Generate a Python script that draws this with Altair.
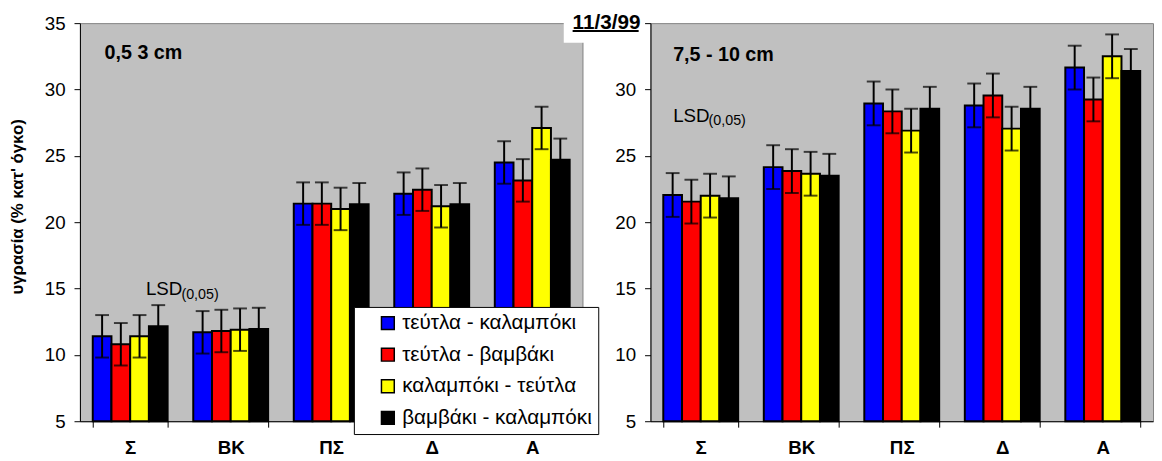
import altair as alt
import pandas as pd

FONT = "Liberation Sans"

categories = ["Σ", "ΒΚ", "ΠΣ", "Δ", "Α"]
series = ["τεύτλα - καλαμπόκι", "τεύτλα - βαμβάκι", "καλαμπόκι - τεύτλα", "βαμβάκι - καλαμπόκι"]
colors = ["#0000FF", "#FF0000", "#FFFF00", "#000000"]

# 0,5 3 cm panel
left_blue = [11.4, 11.7, 21.4, 22.15, 24.5]
left_red = [10.8, 11.8, 21.4, 22.45, 23.15]
left_yellow = [11.4, 11.9, 21.0, 21.2, 27.1]
left_black = [12.15, 11.95, 21.35, 21.35, 24.7]
left_lsd = 1.6

# 7,5 - 10 cm panel
right_blue = [22.05, 24.15, 28.95, 28.8, 31.65]
right_red = [21.55, 23.85, 28.35, 29.55, 29.25]
right_yellow = [22.0, 23.65, 26.9, 27.05, 32.5]
right_black = [21.8, 23.5, 28.55, 28.55, 31.4]
right_lsd = 1.65

y_ticks = [5, 10, 15, 20, 25, 30, 35]


def make_df(cols, lsd):
    rows = []
    for s, vals in zip(series, cols):
        for c, v in zip(categories, vals):
            rows.append({"cat": c, "series": s, "value": v, "lo": v - lsd, "hi": v + lsd})
    return pd.DataFrame(rows)


left_df = make_df([left_blue, left_red, left_yellow, left_black], left_lsd)
right_df = make_df([right_blue, right_red, right_yellow, right_black], right_lsd)

legend = alt.Legend(
    title=None, orient="none", legendX=278, legendY=288,
    fillColor="white", strokeColor="black", padding=6,
    symbolType="square", symbolSize=169, symbolStrokeColor="black",
    symbolStrokeWidth=1.5, symbolOffset=18, labelOffset=4,
    labelFontSize=21, labelFont=FONT, labelColor="black", labelLimit=400,
    rowPadding=10, labelExpr="datum.label + '\u00a0\u00a0\u00a0'",
)


def panel(df, width, y_axis):
    x_enc = alt.X(
        "cat:N", sort=categories,
        scale=alt.Scale(paddingInner=0.255, paddingOuter=0.1275),
        axis=alt.Axis(title=None, labelAngle=0, labelFontWeight="bold", labelFontSize=19,
                      labelFont=FONT, labelColor="black", labelPadding=12, tickSize=6,
                      tickBand="extent", domainColor="black", tickColor="black"),
    )
    xo = alt.XOffset("series:N", sort=series, scale=alt.Scale(paddingInner=0, paddingOuter=0))
    y_scale = alt.Scale(domain=[5, 35], nice=False, zero=False)

    def y(field):
        return alt.Y(field, type="quantitative", scale=y_scale, axis=y_axis)

    base = alt.Chart(df)
    bars = base.mark_bar(stroke="black", strokeWidth=2).encode(
        x=x_enc, xOffset=xo, y=y("value"), y2=alt.datum(5),
        color=alt.Color("series:N", sort=series,
                        scale=alt.Scale(domain=series, range=colors), legend=legend),
    )
    rule = base.mark_rule(color="black", strokeWidth=2).encode(
        x=x_enc, xOffset=xo, y=y("lo"), y2="hi:Q")
    cap_hi = base.mark_tick(color="black", thickness=2, size=14, orient="horizontal").encode(
        x=x_enc, xOffset=xo, y=y("hi"))
    cap_lo = base.mark_tick(color="black", thickness=2, size=14, orient="horizontal").encode(
        x=x_enc, xOffset=xo, y=y("lo"))
    return alt.layer(bars, rule, cap_hi, cap_lo).properties(width=width, height=404)


def label(text, x, y, size, weight="normal"):
    return alt.Chart(pd.DataFrame({"t": [text]})).mark_text(
        align="left", baseline="alphabetic", fontSize=size, fontWeight=weight,
        font=FONT, color="black").encode(text="t:N", x=alt.value(x), y=alt.value(y))


left_axis = alt.Axis(values=y_ticks, title="υγρασία (% κατ' όγκο)", titleFontSize=17,
                     titleFontWeight="bold", titleFont=FONT, titleColor="black",
                     titleAngle=270, titleX=-63, titleY=186, titleAlign="center",
                     titleBaseline="middle", labelFontSize=19, labelFont=FONT,
                     labelColor="black", labelPadding=9, tickSize=6,
                     domainColor="black", tickColor="black", grid=False)
right_axis = alt.Axis(values=y_ticks, title=None, labelFontSize=19, labelFont=FONT,
                      labelColor="black", labelPadding=9, tickSize=6,
                      labelExpr="datum.value == 35 ? '' : datum.label",
                      domainColor="black", tickColor="black", grid=False)

date_box = alt.Chart(pd.DataFrame({"a": [0]})).mark_rect(color="white").encode(
    x=alt.value(491), x2=alt.value(530), y=alt.value(-9), y2=alt.value(20))
date_line = alt.Chart(pd.DataFrame({"a": [0]})).mark_rule(color="black", strokeWidth=2).encode(
    x=alt.value(500), x2=alt.value(567), y=alt.value(8))

left = alt.layer(
    panel(left_df, 510, left_axis),
    label("0,5 3 cm", 25, 36, 20, "bold"),
    label("LSD", 67, 276, 19),
    label("(0,05)", 103, 280, 14.5),
    date_box,
    label("11/3/99", 500, 6, 21, "bold"),
    date_line,
)

right = alt.layer(
    panel(right_df, 510, right_axis),
    label("7,5 - 10 cm", 23, 38, 20, "bold"),
    label("LSD", 23, 100, 19),
    label("(0,05)", 59, 103, 14.5),
)

chart = alt.hconcat(left, right, spacing=69, bounds="flush").resolve_scale(
    color="shared").properties(padding=0).configure(
    font=FONT,
    view=alt.ViewConfig(fill="#C0C0C0", stroke="#808080", strokeWidth=1),
)

chart.save("out.html", embed_options={"renderer": "svg", "actions": False})
